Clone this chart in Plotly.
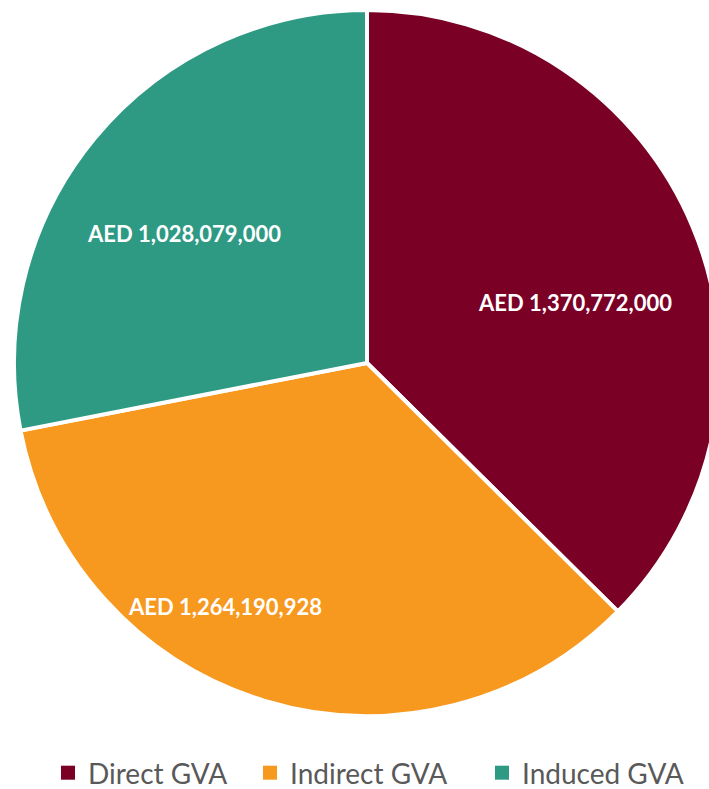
import plotly.graph_objects as go

# GVA breakdown (AED)
categories = ["Direct GVA", "Indirect GVA", "Induced GVA"]
values = [1370772000, 1264190928, 1028079000]
colors = ["#7A0026", "#F7991F", "#2E9A84"]

W, H = 720, 789

fig = go.Figure()
fig.add_trace(
    go.Pie(
        labels=categories,
        values=values,
        sort=False,
        direction="clockwise",
        rotation=0,
        marker=dict(colors=colors, line=dict(color="white", width=4)),
        textinfo="none",
        hoverinfo="label+value+percent",
        showlegend=False,
        domain=dict(x=[14 / W, 1.0], y=[73 / H, 779 / H]),
    )
)

# value labels inside each slice
label_pos = [(575, 302), (225, 606), (184, 234)]
for v, (px, py) in zip(values, label_pos):
    fig.add_annotation(
        x=px / W, y=1 - py / H, xref="paper", yref="paper",
        text=f"AED {v:,}", showarrow=False,
        font=dict(family="Lato", size=22, color="white", weight="bold"),
        xanchor="center", yanchor="middle",
    )

# legend: one key per category, each placed in its own legend box
legend_x = [68, 270, 502]
legend_names = ["legend", "legend2", "legend3"]
legend_layout = {}
for cat, col, lx, lname in zip(categories, colors, legend_x, legend_names):
    fig.add_trace(
        go.Scatter(
            x=[None], y=[None], mode="markers", name=cat,
            marker=dict(symbol="square", size=14, color=col),
            legend=lname, showlegend=True, hoverinfo="skip",
        )
    )
    legend_layout[lname] = dict(
        x=(lx - 20) / W, xanchor="left",
        y=1 - 773 / H, yanchor="middle",
        bgcolor="rgba(0,0,0,0)",
        font=dict(family="Lato", size=28, color="#595959"),
        itemclick=False, itemdoubleclick=False,
    )

fig.update_layout(
    width=W, height=H,
    margin=dict(l=0, r=0, t=0, b=0, autoexpand=False),
    paper_bgcolor="white",
    plot_bgcolor="white",
    xaxis=dict(visible=False),
    yaxis=dict(visible=False),
    **legend_layout,
)

fig.write_html(
    "out.html",
    post_script="document.documentElement.style.overflow='hidden';document.body.style.overflow='hidden';document.body.style.margin='0';",
)
